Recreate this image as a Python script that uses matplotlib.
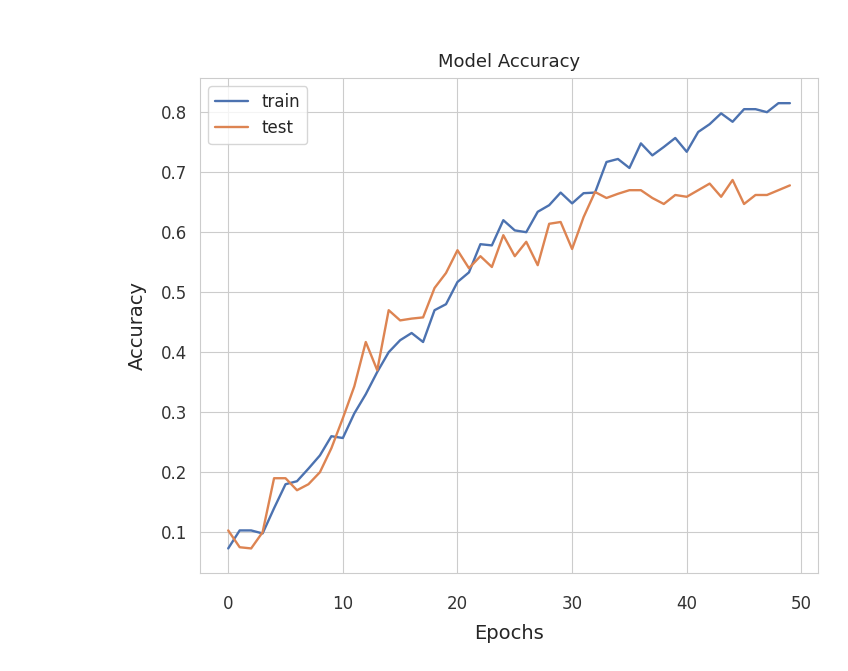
import matplotlib
matplotlib.use("Agg")
import matplotlib.pyplot as plt
import seaborn as sns

epochs = list(range(50))
train_acc = [0.073, 0.103, 0.103, 0.098, 0.14, 0.18, 0.185, 0.206, 0.228, 0.26,
             0.257, 0.298, 0.33, 0.367, 0.40, 0.42, 0.432, 0.417, 0.47, 0.48,
             0.517, 0.533, 0.58, 0.578, 0.62, 0.603, 0.60, 0.634, 0.645, 0.666,
             0.648, 0.665, 0.666, 0.717, 0.722, 0.707, 0.748, 0.728, 0.742, 0.757,
             0.734, 0.767, 0.78, 0.798, 0.784, 0.805, 0.805, 0.80, 0.815, 0.815]
test_acc = [0.103, 0.075, 0.073, 0.10, 0.19, 0.19, 0.17, 0.18, 0.2, 0.24,
            0.29, 0.343, 0.417, 0.37, 0.47, 0.453, 0.456, 0.458, 0.507, 0.532,
            0.57, 0.54, 0.56, 0.542, 0.595, 0.56, 0.584, 0.545, 0.614, 0.617,
            0.572, 0.625, 0.667, 0.657, 0.664, 0.67, 0.67, 0.657, 0.647, 0.662,
            0.659, 0.67, 0.681, 0.659, 0.687, 0.647, 0.662, 0.662, 0.67, 0.678]
series_labels = ["train", "test"]

sns.set_style("whitegrid")
plt.rcParams['font.family'] = ['DejaVu Sans']

fig = plt.figure(figsize=(8.48, 6.71), dpi=100)
ax = fig.add_axes([0.236, 0.146, 0.7286, 0.7378])
ax.plot(epochs, train_acc, color="#4C72B0", lw=1.7, label=series_labels[0])
ax.plot(epochs, test_acc, color="#DD8452", lw=1.7, label=series_labels[1])
ax.set_xlim(-2.45, 51.45)
ax.set_ylim(0.032, 0.857)
ax.set_xticks([0, 10, 20, 30, 40, 50])
ax.set_yticks([0.1, 0.2, 0.3, 0.4, 0.5, 0.6, 0.7, 0.8])
ax.tick_params(axis="x", labelsize=12, colors="#333333", pad=12)
ax.tick_params(axis="y", labelsize=12, colors="#333333", pad=6)
ax.set_title("Model Accuracy", fontsize=13, color="#262626", pad=8)
ax.set_xlabel("Epochs", fontsize=14, color="#262626", labelpad=8)
ax.set_ylabel("Accuracy", fontsize=14, color="#262626", labelpad=10)
ax.legend(loc="upper left", fontsize=12)
fig.savefig("out.png", dpi=100)
